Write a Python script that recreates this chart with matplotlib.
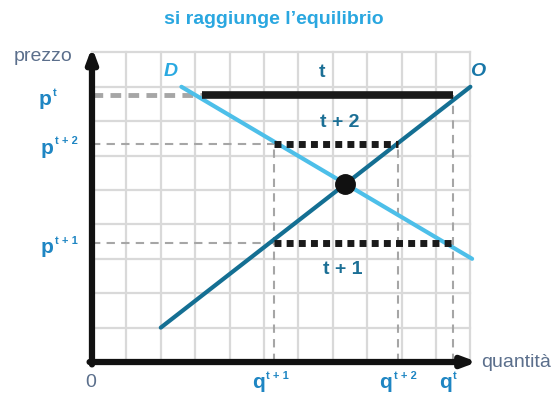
import matplotlib.pyplot as plt

plt.rcParams['font.family'] = ['Liberation Sans', 'DejaVu Sans']

# dati (unità = quadretti della griglia)
n_cols = 11
n_rows = 9
domanda_x = [2.6, 11.05]
domanda_y = [8.0, 3.0]
offerta_x = [2.0, 11.0]
offerta_y = [1.0, 8.0]
prezzi = {'t': 7.75, 't+1': 3.45, 't+2': 6.35}
quantita = {'t': 10.5, 't+1': 5.3, 't+2': 8.9}
inizio_t = 3.2
equilibrio = (7.35, 5.17)

COL_D = '#4dbfe9'
COL_O = '#146f93'
COL_LAB = '#1f86c3'
COL_T = '#1b6f95'
COL_AX = '#5b6f8c'
GRIGIO = '#a6a6a6'

fig = plt.figure(figsize=(5.59, 3.96), dpi=100)
ax = fig.add_axes([0, 0, 1, 1])
ax.set_xlim(-2.674, 13.576)
ax.set_ylim(-0.988, 10.523)
ax.axis('off')

# griglia
for i in range(n_cols + 1):
    ax.plot([i, i], [0, n_rows], color='#d9d9d9', lw=1.6, zorder=1)
for j in range(n_rows + 1):
    ax.plot([0, n_cols], [j, j], color='#d9d9d9', lw=1.6, zorder=1)

# linee tratteggiate grigie
pt, pt1, pt2 = prezzi['t'], prezzi['t+1'], prezzi['t+2']
qt, qt1, qt2 = quantita['t'], quantita['t+1'], quantita['t+2']
ax.plot([0, inizio_t], [pt, pt], color=GRIGIO, lw=3.5, dashes=(2.2, 1.5), zorder=2)
ax.plot([0, qt1], [pt2, pt2], color=GRIGIO, lw=1.5, dashes=(4, 3), zorder=2)
ax.plot([0, qt1], [pt1, pt1], color=GRIGIO, lw=1.5, dashes=(4, 3), zorder=2)
ax.plot([qt1, qt1], [0, pt2], color=GRIGIO, lw=1.5, dashes=(4, 3), zorder=2)
ax.plot([qt2, qt2], [0, pt2], color=GRIGIO, lw=1.5, dashes=(4, 3), zorder=2)
ax.plot([qt, qt], [0, pt], color=GRIGIO, lw=1.5, dashes=(4, 3), zorder=2)

# curve
ax.plot(domanda_x, domanda_y, color=COL_D, lw=3, solid_capstyle='round', zorder=3)
ax.plot(offerta_x, offerta_y, color=COL_O, lw=3, solid_capstyle='round', zorder=3)

# barre dei periodi
ax.plot([inizio_t, qt], [pt, pt], color='#1a1a1a', lw=5.5, solid_capstyle='butt', zorder=4)
ax.plot([qt1, qt2], [pt2, pt2], color='#1a1a1a', lw=5, dashes=(1, 0.75),
        dash_capstyle='butt', zorder=4)
ax.plot([qt1, qt], [pt1, pt1], color='#1a1a1a', lw=5, dashes=(1, 0.75),
        dash_capstyle='butt', zorder=4)

ax.plot(*equilibrio, 'o', color='#111111', ms=14, zorder=5)

# assi con frecce
ax.annotate('', xy=(0, 9.15), xytext=(0, -0.07),
            arrowprops=dict(arrowstyle='-|>,head_width=0.3,head_length=0.8',
                            lw=4.5, color='#111111', shrinkA=0, shrinkB=0), zorder=6)
ax.annotate('', xy=(11.2, 0), xytext=(-0.07, 0),
            arrowprops=dict(arrowstyle='-|>,head_width=0.3,head_length=0.8',
                            lw=4.5, color='#111111', shrinkA=0, shrinkB=0), zorder=6)

# testi
ax.text(5.3, 9.97, "si raggiunge l\u2019equilibrio", color='#2aa7e0', fontsize=14,
        fontweight='bold', ha='center', va='center')
ax.text(-0.58, 8.88, 'prezzo', color=COL_AX, fontsize=14, ha='right', va='center')
ax.text(11.3, -0.01, 'quantità', color=COL_AX, fontsize=14, ha='left', va='center')
ax.text(-0.05, -0.6, '0', color=COL_AX, fontsize=14, ha='center', va='center')


def etichetta(x, y, lettera, apice):
    # lettera in grassetto con apice piccolo accanto
    ax.text(x, y, lettera, color=COL_LAB, fontsize=15, fontweight='bold',
            ha='right', va='center')
    ax.text(x + 0.04, y + 0.2, apice, color=COL_LAB, fontsize=8, fontweight='bold',
            ha='left', va='center')


etichetta(-1.18, pt - 0.13, 'p', 't')
etichetta(-1.12, pt2 - 0.13, 'p', 't + 2')
etichetta(-1.12, pt1 - 0.13, 'p', 't + 1')
etichetta(qt1 - 0.27, -0.6, 'q', 't + 1')
etichetta(qt2 - 0.17, -0.6, 'q', 't + 2')
etichetta(qt - 0.04, -0.6, 'q', 't')

ax.text(2.3, 8.45, 'D', color='#29a9e1', fontsize=14, fontweight='bold', fontstyle='italic',
        ha='center', va='center')
ax.text(11.2, 8.45, 'O', color='#1877a8', fontsize=14, fontweight='bold', fontstyle='italic',
        ha='center', va='center')
ax.text(6.7, 8.43, 't', color=COL_T, fontsize=14, fontweight='bold', ha='center', va='center')
ax.text(7.2, 6.97, 't + 2', color=COL_T, fontsize=14, fontweight='bold', ha='center', va='center')
ax.text(7.3, 2.7, 't + 1', color=COL_T, fontsize=14, fontweight='bold', ha='center', va='center')

fig.savefig('out.png', dpi=100)
